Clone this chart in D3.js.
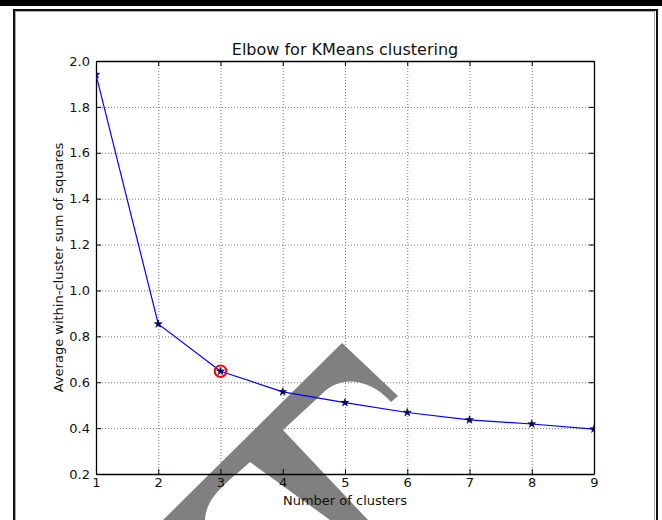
<!DOCTYPE html>
<html>
<head>
<meta charset="utf-8">
<script src="https://cdn.jsdelivr.net/npm/d3@7/dist/d3.min.js"></script>
<style>
body { margin: 0; background: #fff; }
svg { display: block; font-family: "DejaVu Sans", sans-serif; }
</style>
</head>
<body>
<div id="chart"></div>
<script>
const clusters = [1, 2, 3, 4, 5, 6, 7, 8, 9];
const avgWithinSS = [1.941, 0.854, 0.648, 0.558, 0.511, 0.468, 0.436, 0.418, 0.396];
const xTicks = [1, 2, 3, 4, 5, 6, 7, 8, 9];
const yTicks = [0.2, 0.4, 0.6, 0.8, 1.0, 1.2, 1.4, 1.6, 1.8, 2.0];
const elbowK = 3;

const width = 662, height = 520;
const margin = {top: 61, right: 68, bottom: 46, left: 96};
const w = width - margin.left - margin.right;
const h = height - margin.top - margin.bottom;

const data = clusters.map((k, i) => ({k: k, v: avgWithinSS[i]}));

const root = d3.select("#chart")
    .append("svg")
    .attr("width", width)
    .attr("height", height);

// page frame around the figure
root.append("rect")
    .attr("x", 0).attr("y", 0)
    .attr("width", width).attr("height", 6)
    .style("fill", "#000");
root.append("rect")
    .attr("x", 15.5).attr("y", 11.5)
    .attr("width", 639).attr("height", 540)
    .style("fill", "none").style("stroke", "#aaa").style("stroke-width", 1);
root.append("rect")
    .attr("x", 14).attr("y", 10)
    .attr("width", 643).attr("height", 540)
    .style("fill", "none").style("stroke", "#111").style("stroke-width", 2);

const svg = root.append("g")
    .attr("transform", "translate(" + margin.left + "," + margin.top + ")");

const x = d3.scaleLinear().domain([1, 9]).range([0, w]);
const y = d3.scaleLinear().domain([0.2, 2.0]).range([h, 0]);

svg.append("defs").append("clipPath")
    .attr("id", "plotclip")
    .append("rect")
    .attr("width", w).attr("height", h);

// dotted grid
svg.append("g")
    .attr("class", "grid")
    .attr("transform", "translate(0," + h + ")")
    .call(d3.axisBottom(x).tickValues(xTicks).tickSize(-h).tickFormat(""));
svg.append("g")
    .attr("class", "grid")
    .call(d3.axisLeft(y).tickValues(yTicks).tickSize(-w).tickFormat(""));
svg.selectAll(".grid .domain").remove();
svg.selectAll(".grid line")
    .style("stroke", "#777")
    .style("stroke-width", 1)
    .style("stroke-dasharray", "1,2");

// gray watermark shape, sits above the grid but under the axes and line
svg.append("path")
    .attr("transform", "translate(" + (-margin.left) + "," + (-margin.top) + ")")
    .attr("d", "M342,343 L398,396 L391,402 C370,378 340,375 323,393 L283,430 L368,520 L330,520 L250,462 C228,482 206,496 205,520 L163,520 Z")
    .style("fill", "#808080");

// axes with inward ticks on all four sides
svg.append("g")
    .attr("transform", "translate(0," + h + ")")
    .call(d3.axisBottom(x).tickValues(xTicks).tickSize(-5).tickSizeOuter(0).tickPadding(4).tickFormat(d3.format("d")));
svg.append("g")
    .call(d3.axisLeft(y).tickValues(yTicks).tickSize(-5).tickSizeOuter(0).tickPadding(6).tickFormat(d3.format(".1f")));
svg.append("g")
    .call(d3.axisTop(x).tickValues(xTicks).tickSize(-5).tickSizeOuter(0).tickFormat(""));
svg.append("g")
    .attr("transform", "translate(" + w + ",0)")
    .call(d3.axisRight(y).tickValues(yTicks).tickSize(-5).tickSizeOuter(0).tickFormat(""));

svg.selectAll(".domain").style("stroke", "#000").style("stroke-width", 1.3);
svg.selectAll(".tick line").filter(function() { return !this.closest(".grid"); })
    .style("stroke", "#000");
svg.selectAll(".tick text")
    .style("font-size", "13px")
    .style("font-family", "DejaVu Sans")
    .style("fill", "#111");

// line and star markers
const plot = svg.append("g").attr("clip-path", "url(#plotclip)");

plot.append("path")
    .datum(data)
    .attr("d", d3.line().x(d => x(d.k)).y(d => y(d.v)))
    .style("fill", "none")
    .style("stroke", "#0000ff")
    .style("stroke-width", 1.2);

plot.selectAll(".star")
    .data(data)
    .enter()
    .append("path")
    .attr("class", "star")
    .attr("transform", d => "translate(" + x(d.k) + "," + y(d.v) + ")")
    .attr("d", d3.symbol().type(d3.symbolStar).size(20))
    .style("fill", "#00008b")
    .style("stroke", "#000")
    .style("stroke-width", 0.5);

// red circle around the elbow
const elbow = data.find(d => d.k === elbowK);
svg.append("circle")
    .attr("cx", x(elbow.k))
    .attr("cy", y(elbow.v))
    .attr("r", 5.8)
    .style("fill", "none")
    .style("stroke", "#ff0000")
    .style("stroke-width", 2);

// titles
svg.append("text")
    .attr("x", w / 2)
    .attr("y", -6)
    .style("text-anchor", "middle")
    .style("font-size", "16px")
    .style("fill", "#111")
    .text("Elbow for KMeans clustering");

svg.append("text")
    .attr("x", w / 2)
    .attr("y", h + 31)
    .style("text-anchor", "middle")
    .style("font-size", "13px")
    .style("fill", "#111")
    .text("Number of clusters");

svg.append("text")
    .attr("transform", "rotate(-90)")
    .attr("x", -h / 2)
    .attr("y", -33)
    .style("text-anchor", "middle")
    .style("font-size", "13px")
    .style("fill", "#111")
    .text("Average within-cluster sum of squares");
</script>
</body>
</html>
